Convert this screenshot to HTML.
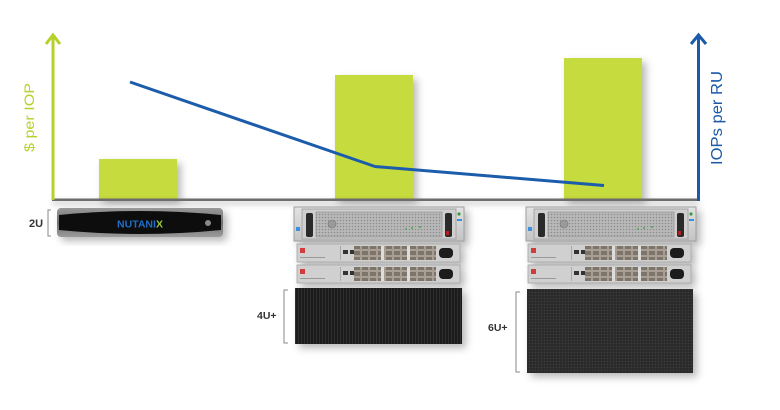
<!DOCTYPE html>
<html><head><meta charset="utf-8"><style>
html,body{margin:0;padding:0;background:#fff;}
svg{display:block;}
</style></head><body>
<svg width="780" height="410" viewBox="0 0 780 410" xmlns="http://www.w3.org/2000/svg">
<defs>
  <filter id="sh" x="-20%" y="-20%" width="150%" height="150%">
    <feDropShadow dx="4" dy="4" stdDeviation="4" flood-color="#000" flood-opacity="0.28"/>
  </filter>
  <filter id="sh2" x="-5%" y="-300%" width="110%" height="800%">
    <feDropShadow dx="0" dy="3" stdDeviation="3" flood-color="#000" flood-opacity="0.3"/>
  </filter>
  <pattern id="mesh" width="3" height="3" patternUnits="userSpaceOnUse">
    <rect width="3" height="3" fill="#b9b9b9"/>
    <circle cx="1.5" cy="1.5" r="0.8" fill="#8c8c8c"/>
  </pattern>
  <pattern id="dark1" width="3" height="3" patternUnits="userSpaceOnUse">
    <rect width="3" height="3" fill="#1c1c1c"/>
    <rect x="1" y="0" width="1" height="3" fill="#2e2e2e"/>
  </pattern>
  <pattern id="dark2" width="3" height="3" patternUnits="userSpaceOnUse">
    <rect width="3" height="3" fill="#2a2a2a"/>
    <circle cx="1.5" cy="1.5" r="0.8" fill="#3e3e3e"/>
  </pattern>
  <pattern id="ports" width="8" height="6" patternUnits="userSpaceOnUse">
    <rect width="8" height="6" fill="#a89e94"/>
    <rect x="1" y="1" width="6" height="4" fill="#7e746b"/>
  </pattern>
  <linearGradient id="gbox" x1="0" y1="0" x2="0" y2="1">
    <stop offset="0" stop-color="#9a9a9a"/>
    <stop offset="0.5" stop-color="#6f6f6f"/>
    <stop offset="1" stop-color="#9a9a9a"/>
  </linearGradient>
  <linearGradient id="srv" x1="0" y1="0" x2="0" y2="1">
    <stop offset="0" stop-color="#e2e2e2"/>
    <stop offset="1" stop-color="#c4c4c4"/>
  </linearGradient>

  <g id="server">
    <rect x="0" y="0" width="170" height="34" fill="url(#srv)" stroke="#a0a0a0" stroke-width="1"/>
    <rect x="8" y="2" width="154" height="30" fill="#cfcfcf" stroke="#999" stroke-width="0.8"/>
    <rect x="12" y="6" width="7" height="24" rx="2" fill="#2a2a2a"/>
    <rect x="151" y="6" width="7" height="24" rx="2" fill="#2a2a2a"/>
    <rect x="22" y="5" width="126" height="25" fill="url(#mesh)" stroke="#888" stroke-width="0.6"/>
    <circle cx="38" cy="17" r="4" fill="#9a9a9a" stroke="#777" stroke-width="0.6"/>
    <circle cx="112" cy="22" r="1" fill="#4caf50"/>
    <circle cx="118" cy="21" r="1" fill="#4caf50"/>
    <circle cx="126" cy="20" r="1" fill="#4caf50"/>
    <rect x="2" y="20" width="4" height="4" fill="#3a8fe0"/>
    <circle cx="165" cy="7" r="1.6" fill="#3a9a3a"/>
    <rect x="163" y="12" width="5" height="2" fill="#3a8fe0"/>
    <rect x="152" y="24" width="3" height="4" fill="#b02020"/>
  </g>
  <g id="switch">
    <rect x="0" y="0" width="163" height="18" fill="#d0d0d0" stroke="#a5a5a5" stroke-width="0.8"/>
    <rect x="3" y="4" width="5" height="5" fill="#d23a3a"/>
    <rect x="3" y="13" width="25" height="1" fill="#999"/>
    <rect x="46" y="6" width="5" height="4" fill="#333"/>
    <rect x="53" y="6" width="5" height="4" fill="#333"/>
    <rect x="60" y="6" width="4" height="4" fill="#333"/>
    <rect x="43" y="2" width="1" height="14" fill="#aaa"/>
    <rect x="57" y="2" width="82" height="14" fill="url(#ports)"/>
    <rect x="84" y="2" width="3" height="14" fill="#ddd"/>
    <rect x="110" y="2" width="3" height="14" fill="#ddd"/>
    <rect x="142" y="4" width="14" height="10" rx="4" fill="#1e1e1e"/>
  </g>
</defs>

<!-- bars -->
<g filter="url(#sh)">
  <rect x="99" y="159" width="78" height="40" fill="#c6db3c"/>
  <rect x="335" y="75" width="78" height="124" fill="#c6db3c"/>
  <rect x="564" y="58" width="78" height="141" fill="#c6db3c"/>
</g>

<!-- baseline -->
<rect x="52" y="198.5" width="647" height="2.5" fill="#6d6d6d" filter="url(#sh2)"/>

<!-- left axis -->
<line x1="53" y1="35" x2="53" y2="200" stroke="#b5d12a" stroke-width="3"/>
<polyline points="46,44 53,35 60,44" fill="none" stroke="#b5d12a" stroke-width="3"/>

<!-- right axis -->
<line x1="698.5" y1="35" x2="698.5" y2="201" stroke="#1a5aa8" stroke-width="3"/>
<polyline points="691,44 698.5,35 706,44" fill="none" stroke="#1a5aa8" stroke-width="3"/>

<!-- trend line -->
<polyline points="130,82 375,166.5 604,185.5" fill="none" stroke="#1b5cab" stroke-width="3" stroke-linejoin="round"/>

<!-- axis labels -->
<text transform="translate(34,117.5) rotate(-90)" text-anchor="middle" font-family="Liberation Sans, sans-serif" font-size="14" fill="#b5d12a" textLength="69" lengthAdjust="spacingAndGlyphs">$ per IOP</text>
<text transform="translate(722,118) rotate(-90)" text-anchor="middle" font-family="Liberation Sans, sans-serif" font-size="15.5" fill="#1a5aa8" textLength="94" lengthAdjust="spacingAndGlyphs">IOPs per RU</text>

<!-- Nutanix box -->
<g filter="url(#sh)">
  <rect x="57" y="208" width="166" height="29" rx="4" fill="url(#gbox)"/>
  <path d="M59,215 Q140,207 221,215 L221,230 Q140,238 59,230 Z" fill="#0c0c0c"/>
  <circle cx="208" cy="223" r="3" fill="#8a8a8a"/>
</g>
<text x="140" y="227.5" text-anchor="middle" font-family="Liberation Sans, sans-serif" font-size="10.5" font-weight="bold" fill="#1e6fc8">NUTANI<tspan fill="#9cc83a">X</tspan></text>
<text x="29" y="227" font-family="Liberation Sans, sans-serif" font-size="11" font-weight="bold" fill="#333">2U</text>
<path d="M51,210 L48,210 L48,236 L51,236" fill="none" stroke="#888" stroke-width="1"/>

<!-- stack 2 -->
<g filter="url(#sh)">
  <use href="#server" x="294" y="207"/>
  <use href="#switch" x="297" y="244"/>
  <use href="#switch" x="297" y="265"/>
  <rect x="295" y="288" width="167" height="56" fill="url(#dark1)"/>
</g>
<text x="257" y="319" font-family="Liberation Sans, sans-serif" font-size="10.5" font-weight="bold" fill="#333">4U+</text>
<path d="M288,290 L284,290 L284,343 L288,343" fill="none" stroke="#888" stroke-width="1"/>

<!-- stack 3 -->
<g filter="url(#sh)">
  <use href="#server" x="526" y="207"/>
  <use href="#switch" x="528" y="244"/>
  <use href="#switch" x="528" y="265"/>
  <rect x="527" y="289" width="166" height="84" fill="url(#dark2)"/>
</g>
<text x="488" y="331" font-family="Liberation Sans, sans-serif" font-size="10.5" font-weight="bold" fill="#333">6U+</text>
<path d="M520,292 L516,292 L516,372 L520,372" fill="none" stroke="#888" stroke-width="1"/>
</svg>
</body></html>
